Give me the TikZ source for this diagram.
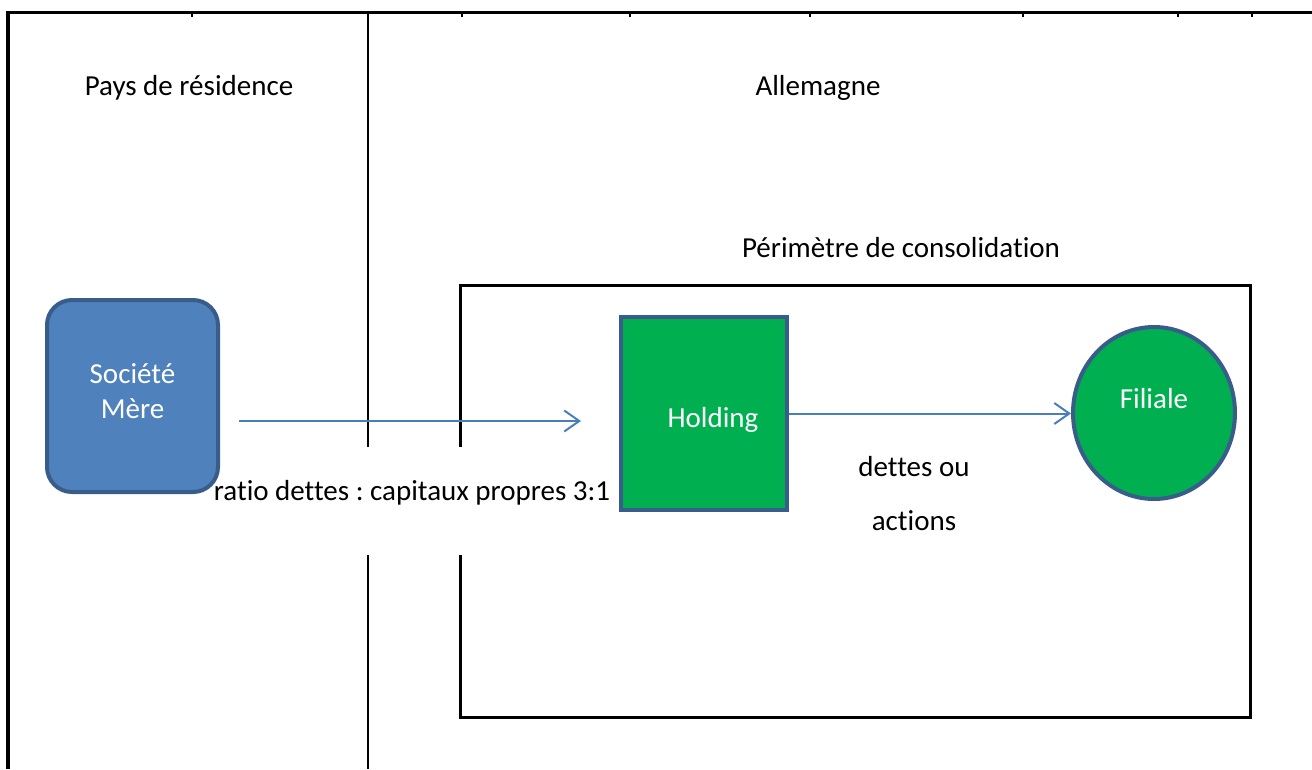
\documentclass[tikz,border=0pt]{standalone}
\usepackage{fontspec}
\setmainfont{Carlito}[Ligatures={NoCommon}]
\frenchspacing
\usetikzlibrary{shapes.geometric,arrows.meta}
\definecolor{edgeblue}{HTML}{385D8A}
\definecolor{boxblue}{HTML}{4F81BD}
\definecolor{boxgreen}{HTML}{00B050}
\definecolor{arrowblue}{HTML}{4A7EBB}
\begin{document}
\begin{tikzpicture}[x=1pt,y=-1pt,
  txt/.style={font=\fontsize{29}{35}\selectfont, inner sep=0pt},
  whitetxt/.style={txt, text=white},
  shapeedge/.style={draw=edgeblue, line width=4pt, inner sep=0pt},
  flow/.style={draw=arrowblue, line width=2pt, -{Straight Barb[length=15pt,width=21pt,line width=2pt]}},
  tickmark/.style={line width=2pt}]
\useasboundingbox (0,0) rectangle (1312,769);
% frame
\coordinate (ftl) at (8,12.5);
\coordinate (ftr) at (1312,12.5);
\coordinate (fbl) at (8,769);
\draw[line width=3.2pt] (fbl) -- (ftl) -- (ftr);
\coordinate (dtop) at (368,12.5);
\coordinate (dbot) at (368,769);
\draw[line width=2pt] (dtop) -- (dbot);
\foreach \x in {192,462,630,810,1023,1178,1252}
  \draw[tickmark] (\x,13) -- (\x,16.5);
% consolidation perimeter
\node[draw, line width=3pt, minimum width=790, minimum height=432, inner sep=0pt] (perim) at (855,501) {};
% headings
\node[txt] (pays) at (189,88) {Pays de résidence};
\node[txt] (allem) at (818,88) {Allemagne};
\node[txt] (perimT) at (901,248) {Périmètre de consolidation};
% ratio label (white background interrupts lines)
\node[txt, fill=white, anchor=base, text height=53pt, text depth=55pt] (ratio) at (412,500) {ratio dettes : capitaux propres 3:1};
% shapes
\node[shapeedge, fill=boxblue, rounded corners=25pt, minimum width=171, minimum height=192,
      label={[whitetxt, align=center, yshift=5pt]center:Société\\Mère}] (mere) at (132.5,396) {};
\node[shapeedge, fill=boxgreen, minimum width=166, minimum height=193,
      label={[whitetxt, xshift=9pt, yshift=-6pt]center:Holding}] (holding) at (704,413.5) {};
\node[shapeedge, ellipse, fill=boxgreen, minimum width=162, minimum height=172,
      label={[whitetxt, yshift=14pt]center:Filiale}] (filiale) at (1154,413) {};
% connectors
\coordinate (a1s) at (239,421);
\coordinate (a1e) at (581,421);
\draw[flow] (a1s) -- (a1e);
\draw[flow] (holding.east) -- (holding.east -| filiale.west);
\node[txt, align=center] (dettes) at (914,494) {dettes ou\\[19pt]actions};
\end{tikzpicture}
\end{document}
